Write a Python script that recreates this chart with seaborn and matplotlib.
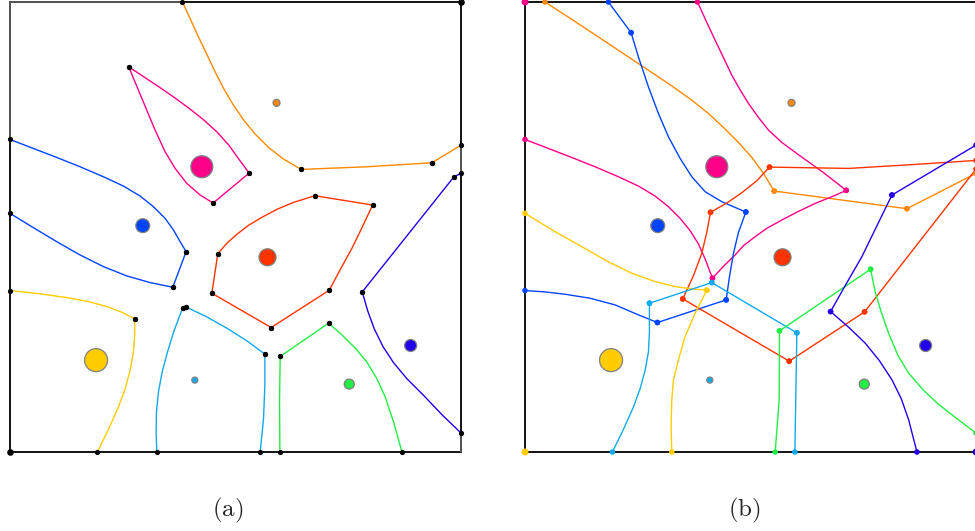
import matplotlib
matplotlib.use("Agg")
import matplotlib.pyplot as plt
import pandas as pd
import seaborn as sns

# cells: name, colour, site position and weight (drawn as marker area)
CELLS = ["orange", "magenta", "blue", "red", "yellow", "cyan", "green", "navy"]
COLORS = ["#ff8800", "#ff0088", "#0044ff", "#ff3300", "#ffcc00", "#11aaee", "#22ee44", "#2200ee"]
SITE_X = [799, 575, 398, 772, 258, 554, 1017, 1201]
SITE_Y = [1049, 857, 680, 585, 276, 216, 204, 320]
SITE_W = [25, 250, 100, 150, 274, 19, 52, 75]

SIDE = 1352

# (a) boundary arcs, one list of chains per cell; chain ends are vertices
ARCS_A = {
    "orange": [
        [(517, 1352), (540, 1302), (565, 1247), (590, 1195), (615, 1142), (640, 1093), (668, 1045),
         (700, 998), (735, 955), (775, 915), (820, 880), (873, 849)],
        [(873, 849), (1070, 857), (1265, 869)],
        [(1265, 869), (1352, 922)],
    ],
    "magenta": [
        [(356, 1157), (400, 1128), (445, 1098), (490, 1067), (535, 1034), (578, 1000), (620, 962),
         (656, 922), (686, 880), (717, 838)],
        [(717, 838), (609, 748)],
        [(609, 748), (570, 772), (530, 807), (495, 852), (465, 902), (435, 967), (410, 1027),
         (385, 1087), (356, 1157)],
    ],
    "blue": [
        [(0, 939), (70, 912), (140, 885), (210, 857), (280, 827), (340, 799), (390, 769), (430, 737),
         (465, 702), (490, 667), (510, 632), (528, 602)],
        [(528, 602), (488, 495)],
        [(488, 495), (420, 509), (350, 529), (280, 557), (210, 592), (140, 632), (70, 674), (0, 717)],
    ],
    "red": [
        [(623, 596), (650, 627), (680, 654), (715, 681), (755, 705), (800, 729), (850, 750), (914, 770)],
        [(914, 770), (1087, 742)],
        [(1087, 742), (1058, 680), (1025, 612), (990, 548), (957, 486)],
        [(957, 486), (783, 374)],
        [(783, 374), (605, 477)],
        [(605, 477), (623, 596)],
    ],
    "yellow": [
        [(0, 485), (85, 476), (170, 464), (235, 452), (290, 437), (335, 420), (374, 400)],
        [(374, 400), (374, 355), (370, 300), (360, 245), (345, 190), (325, 135), (296, 70), (262, 0)],
    ],
    "cyan": [
        [(440, 0), (438, 60), (439, 120), (445, 180), (456, 240), (472, 300), (492, 365), (518, 434)],
        [(518, 434), (527, 436)],
        [(527, 436), (590, 406), (650, 372), (710, 334), (764, 294)],
        [(764, 294), (764, 200), (760, 100), (750, 0)],
    ],
    "green": [
        [(809, 0), (808, 157), (810, 287)],
        [(810, 287), (955, 387)],
        [(955, 387), (995, 352), (1035, 312), (1070, 270), (1100, 220), (1125, 165), (1150, 90), (1175, 0)],
    ],
    "navy": [
        [(1352, 837), (1331, 827)],
        [(1331, 827), (1056, 481)],
        [(1056, 481), (1072, 425), (1092, 370), (1118, 317), (1150, 268), (1190, 220), (1240, 170),
         (1295, 112), (1352, 57)],
    ],
}
CORNERS_A = [(0, 0), (1352, 1352)]
GREY_EDGES_A = [[(0, 1352), (517, 1352)], [(0, 1352), (0, 939)],
                [(1352, 837), (1352, 922)], [(1352, 0), (1352, 57)]]

# (b) boundary arcs
ARCS_B = {
    "orange": [
        [(60, 1352), (140, 1300), (220, 1247), (295, 1197), (370, 1147), (440, 1100), (500, 1057),
         (550, 1017), (595, 975), (640, 930), (680, 885), (715, 837), (747, 784)],
        [(747, 784), (1145, 731)],
        [(1145, 731), (1352, 837)],
    ],
    "magenta": [
        [(517, 1352), (543, 1295), (570, 1237), (595, 1185), (620, 1132), (645, 1088), (670, 1047),
         (700, 1005), (730, 967), (770, 930), (820, 893), (890, 843), (963, 786)],
        [(963, 786), (920, 767), (870, 747), (820, 723), (770, 697), (725, 672), (690, 647),
         (655, 620), (630, 592), (595, 558), (562, 522)],
        [(0, 939), (70, 912), (140, 885), (210, 857), (280, 827), (340, 799), (390, 769), (430, 737),
         (465, 702), (495, 665), (520, 625), (540, 580), (562, 522)],
    ],
    "blue": [
        [(250, 1352), (318, 1260)],
        [(318, 1260), (340, 1187), (370, 1097), (400, 1017), (430, 947), (465, 882), (500, 827),
         (540, 782), (590, 752), (662, 721)],
        [(662, 721), (640, 660), (625, 597), (613, 527), (603, 457)],
        [(603, 457), (397, 389)],
        [(397, 389), (340, 412), (270, 442), (195, 462), (120, 474), (60, 481), (0, 485)],
    ],
    "red": [
        [(1352, 876), (1170, 864), (970, 852), (733, 856)],
        [(733, 856), (695, 815), (650, 779), (605, 748), (556, 720)],
        [(556, 720), (545, 660), (530, 597), (505, 530), (473, 460)],
        [(473, 460), (792, 273)],
        [(792, 273), (1018, 421)],
        [(1018, 421), (1352, 850)],
    ],
    "yellow": [
        [(0, 717), (85, 665), (170, 617), (245, 574), (320, 537), (390, 512), (450, 497),
         (500, 490), (545, 486)],
        [(545, 486), (510, 417), (480, 347), (460, 277), (445, 217), (440, 157), (438, 77), (440, 0)],
    ],
    "cyan": [
        [(262, 0), (296, 70), (325, 135), (345, 190), (360, 245), (370, 300), (373, 360), (373, 447)],
        [(373, 447), (560, 509)],
        [(560, 509), (815, 358)],
        [(815, 358), (809, 0)],
    ],
    "green": [
        [(750, 0), (762, 157), (763, 364)],
        [(763, 364), (1036, 549)],
        [(1036, 549), (1050, 480), (1068, 420), (1090, 357), (1118, 290), (1150, 237), (1195, 185),
         (1240, 143), (1295, 100), (1352, 57)],
    ],
    "navy": [
        [(1352, 922), (1100, 772)],
        [(1100, 772), (1060, 690), (1010, 587), (960, 500), (916, 422)],
        [(916, 422), (970, 375), (1020, 327), (1062, 275), (1100, 217), (1128, 160), (1150, 97),
         (1175, 0)],
    ],
}
CORNERS_B = [("magenta", 0, 1352), ("yellow", 0, 0), ("navy", 1352, 0)]

palette = dict(zip(CELLS, COLORS))


def arcs_frames(arcs):
    rows, verts = [], []
    for cell, chains in arcs.items():
        for k, chain in enumerate(chains):
            for i, (x, y) in enumerate(chain):
                rows.append({"cell": cell, "chain": f"{cell}{k}", "i": i, "x": x, "y": y})
            for x, y in (chain[0], chain[-1]):
                verts.append({"cell": cell, "x": x, "y": y})
    return pd.DataFrame(rows), pd.DataFrame(verts)


sites = pd.DataFrame({"cell": CELLS, "x": SITE_X, "y": SITE_Y, "w": SITE_W})


def draw_panel(ax, arcs, black_verts):
    lines, verts = arcs_frames(arcs)
    sns.lineplot(data=lines, x="x", y="y", hue="cell", units="chain", estimator=None,
                 sort=False, palette=palette, lw=1.0, legend=False, ax=ax)
    if black_verts:
        sns.scatterplot(data=verts, x="x", y="y", color="black", s=14, linewidth=0,
                        legend=False, ax=ax, zorder=4, clip_on=False)
    else:
        sns.scatterplot(data=verts, x="x", y="y", hue="cell", palette=palette, s=16,
                        linewidth=0, legend=False, ax=ax, zorder=4, clip_on=False)
    sns.scatterplot(data=sites, x="x", y="y", hue="cell", palette=palette, size="w",
                    sizes=(min(SITE_W), max(SITE_W)), edgecolor="#808080", linewidth=0.9,
                    legend=False, ax=ax, zorder=5)
    ax.set_xlim(0, SIDE)
    ax.set_ylim(0, SIDE)
    ax.set_xticks([])
    ax.set_yticks([])
    ax.set_xlabel("")
    ax.set_ylabel("")
    for sp in ax.spines.values():
        sp.set_visible(True)
        sp.set_color("black")
        sp.set_linewidth(1.3)


sns.set_style("white")
plt.rcParams["mathtext.fontset"] = "cm"

fig = plt.figure(figsize=(9.75, 5.31), dpi=100)
ax_a = fig.add_axes([10 / 975, 79 / 531, 451 / 975, 450 / 531])
ax_b = fig.add_axes([525 / 975, 79 / 531, 451 / 975, 450 / 531])

draw_panel(ax_a, ARCS_A, True)
for seg in GREY_EDGES_A:
    ax_a.plot([p[0] for p in seg], [p[1] for p in seg], color="#555555", lw=1.4,
              clip_on=False, zorder=3)
ax_a.scatter([c[0] for c in CORNERS_A], [c[1] for c in CORNERS_A], color="black",
             s=14, zorder=4, clip_on=False)

draw_panel(ax_b, ARCS_B, False)
ax_b.scatter([c[1] for c in CORNERS_B], [c[2] for c in CORNERS_B],
             color=[palette[c[0]] for c in CORNERS_B], s=16, zorder=4, clip_on=False)

fig.text(228 / 975, 1 - 510 / 531, r"$\mathrm{(a)}$", ha="center", va="center", fontsize=18)
fig.text(744 / 975, 1 - 510 / 531, r"$\mathrm{(b)}$", ha="center", va="center", fontsize=18)

fig.savefig("out.png", dpi=100)
